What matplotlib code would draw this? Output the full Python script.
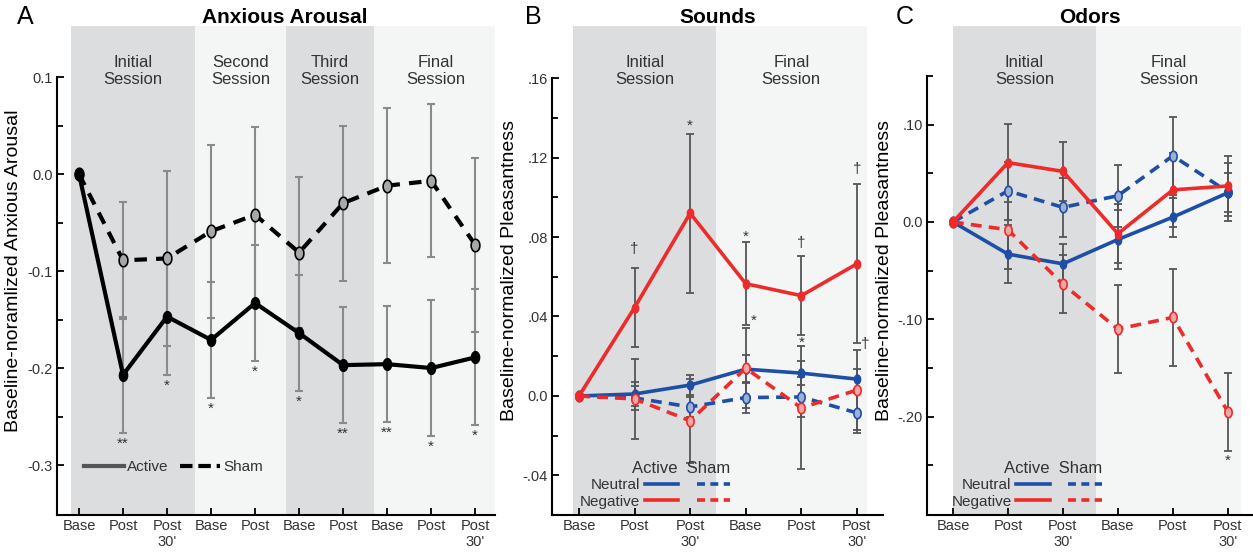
import numpy as np
import matplotlib
matplotlib.use("Agg")
import matplotlib.pyplot as plt
from matplotlib.lines import Line2D

plt.rcParams['font.family'] = ['Liberation Sans', 'DejaVu Sans']

# ---- data ----
a_ticks = ["Base", "Post", "Post\n30'", "Base", "Post", "Base", "Post", "Base", "Post", "Post\n30'"]
a_active = [0.0, -0.207, -0.147, -0.171, -0.133, -0.164, -0.197, -0.196, -0.200, -0.189]
a_active_se = [0, 0.060, 0.060, 0.060, 0.060, 0.060, 0.060, 0.060, 0.070, 0.070]
a_sham = [0.0, -0.089, -0.087, -0.059, -0.042, -0.081, -0.030, -0.012, -0.007, -0.073]
a_sham_se = [0, 0.060, 0.090, 0.089, 0.090, 0.078, 0.080, 0.080, 0.079, 0.090]
a_stars = ["", "**", "*", "*", "*", "*", "**", "**", "*", "*"]
a_sessions = ["Initial\nSession", "Second\nSession", "Third\nSession", "Final\nSession"]

bc_ticks = ["Base", "Post", "Post\n30'", "Base", "Post", "Post\n30'"]
bc_sessions = ["Initial\nSession", "Final\nSession"]

b_neu_act = [0, 0.001, 0.0055, 0.0135, 0.0115, 0.0085]
b_neu_act_se = [0, 0.006, 0.005, 0.007, 0.006, 0.005]
b_neu_sham = [0, -0.001, -0.0055, -0.0008, -0.0005, -0.0085]
b_neu_sham_se = [0, 0.006, 0.005, 0.008, 0.010, 0.010]
b_neg_act = [0, 0.0445, 0.0920, 0.0565, 0.0505, 0.0665]
b_neg_act_se = [0, 0.020, 0.040, 0.021, 0.020, 0.040]
b_neg_sham = [0, -0.0015, -0.0125, 0.0140, -0.0060, 0.0030]
b_neg_sham_se = [0, 0.020, 0.021, 0.020, 0.031, 0.020]
b_marks = [(1, "\u2020", 0.074), (2, "*", 0.136), (3, "*", 0.080), (3.15, "*", 0.038),
           (4, "\u2020", 0.077), (4, "*", 0.027), (5, "\u2020", 0.114), (5.15, "\u2020", 0.026)]

c_neu_act = [0, -0.033, -0.043, -0.018, 0.005, 0.030]
c_neu_act_se = [0, 0.030, 0.020, 0.030, 0.020, 0.020]
c_neu_sham = [0, 0.032, 0.015, 0.027, 0.068, 0.031]
c_neu_sham_se = [0, 0.030, 0.030, 0.032, 0.040, 0.030]
c_neg_act = [0, 0.061, 0.052, -0.012, 0.033, 0.037]
c_neg_act_se = [0, 0.040, 0.030, 0.030, 0.038, 0.031]
c_neg_sham = [0, -0.008, -0.064, -0.110, -0.098, -0.195]
c_neg_sham_se = [0, 0.040, 0.030, 0.045, 0.050, 0.040]
c_marks = [(5, "*", -0.245)]

# ---- style ----
DARK = '#dcdddf'
LIGHT = '#f4f6f6'
RED = '#ee2b2b'
BLUE = '#1f4ea6'
TXT = '#333333'

# upright ellipse marker, like the original's squashed circles
_t = np.linspace(0, 2 * np.pi, 40)
ELL = np.column_stack([0.7 * np.cos(_t), np.sin(_t)])

W, H = 1253, 554
fig = plt.figure(figsize=(W / 100, H / 100), dpi=100)


def make_ax(x0, x1, ylim, xlim):
    ax = fig.add_axes([x0 / W, 1 - 515 / H, (x1 - x0) / W, (515 - 26) / H])
    ax.set_xlim(*xlim)
    ax.set_ylim(*ylim)
    for s in ('top', 'right'):
        ax.spines[s].set_visible(False)
    for s in ('left', 'bottom'):
        ax.spines[s].set_linewidth(1.5)
    ax.tick_params(which='both', direction='in', width=1.3, colors='black',
                   labelcolor=TXT, labelsize=10.5)
    ax.tick_params(which='major', length=5)
    ax.tick_params(which='minor', length=4)
    ax.tick_params(axis='x', pad=3)
    ax.tick_params(axis='y', pad=3)
    return ax


def shade(ax, bounds, labels):
    for i, lab in enumerate(labels):
        ax.axvspan(bounds[i], bounds[i + 1], color=DARK if i % 2 == 0 else LIGHT,
                   lw=0, zorder=0)
        ax.text((bounds[i] + bounds[i + 1]) / 2, 0.908, lab, transform=ax.get_xaxis_transform(),
                ha='center', va='center', fontsize=12, color=TXT, linespacing=1.15)


# ================= Panel A =================
axA = make_ax(57, 495, (-0.3515, 0.1526), (-0.5, 9.45))
shade(axA, [-0.18, 2.64, 4.70, 6.70, 9.5], a_sessions)
x = list(range(len(a_ticks)))
eb = dict(fmt='none', ecolor='#8a8a8a', elinewidth=1.5, capsize=3, capthick=1.5, zorder=2)
axA.errorbar(x, a_sham, yerr=a_sham_se, **eb)
axA.errorbar(x, a_active, yerr=a_active_se, **eb)
axA.plot(x, a_sham, color='black', lw=3, ls=(0, (3, 2.2)), marker=ELL, ms=9,
         mfc='#a8a8a8', mec='black', mew=1.2, zorder=3)
axA.plot(x, a_active, color='black', lw=3, marker=ELL, ms=8.5, mfc='black', mec='black', zorder=4)
for xi, s, m, e in zip(x, a_stars, a_active, a_active_se):
    if s:
        axA.text(xi, m - e - 0.004, s, ha='center', va='top', fontsize=11, color=TXT)
axA.set_xticks(x)
axA.set_xticklabels(a_ticks)
axA.set_yticks([0.1, 0.0, -0.1, -0.2, -0.3])
axA.set_yticklabels(["0.1", "0.0", "-0.1", "-0.2", "-0.3"])
axA.set_yticks([0.05, -0.05, -0.15, -0.25], minor=True)
axA.spines['left'].set_bounds(-0.3515, 0.1)
axA.set_ylabel("Baseline-noramlized Anxious Arousal", fontsize=14, labelpad=4)
legA = axA.legend([Line2D([], [], color='#555555', lw=3),
                   Line2D([], [], color='black', lw=3, ls=(0, (3, 1.4)))],
                  ["Active", "Sham"], ncol=2, loc='lower left', bbox_to_anchor=(0.03, 0.055),
                  frameon=False, fontsize=11, handlelength=2.6, handletextpad=0.2,
                  columnspacing=0.8)
for t in legA.get_texts():
    t.set_color(TXT)
axA.text(0.52, 1.017, "Anxious Arousal", transform=axA.transAxes, ha='center',
         va='center', fontsize=15, fontweight='bold')


# ================= Panels B, C =================
def pleasant_panel(ax, na, nas, ns, nss, ga, gas, gs, gss, marks, bounds):
    shade(ax, bounds, bc_sessions)
    xx = list(range(len(bc_ticks)))
    eb = dict(fmt='none', ecolor='#555555', elinewidth=1.3, capsize=3, capthick=1.3, zorder=2)
    for v, e in ((ns, nss), (na, nas), (gs, gss), (ga, gas)):
        ax.errorbar(xx, v, yerr=e, **eb)
    ax.plot(xx, ns, color=BLUE, lw=2.6, ls=(0, (3, 2)), marker=ELL, ms=7.5,
            mfc='#9fb0d6', mec=BLUE, mew=1.2, zorder=3)
    ax.plot(xx, na, color=BLUE, lw=2.6, marker=ELL, ms=6.5, mfc=BLUE, mec=BLUE, zorder=4)
    ax.plot(xx, gs, color=RED, lw=2.6, ls=(0, (3, 2)), marker=ELL, ms=7.5,
            mfc='#f2a7a7', mec=RED, mew=1.2, zorder=5)
    ax.plot(xx, ga, color=RED, lw=2.6, marker=ELL, ms=6.5, mfc=RED, mec=RED, zorder=6)
    for xi, s, yv in marks:
        ax.text(xi, yv, s, ha='center', va='center', fontsize=11, color=TXT, zorder=7)
    ax.set_xticks(xx)
    ax.set_xticklabels(bc_ticks)
    ax.set_ylabel("Baseline-normalized Pleasantness", fontsize=14, labelpad=3)
    hs = [Line2D([], [], color=BLUE, lw=2.6), Line2D([], [], color=RED, lw=2.6),
          Line2D([], [], color=BLUE, lw=2.6, ls=(0, (2.2, 1.5))),
          Line2D([], [], color=RED, lw=2.6, ls=(0, (2.2, 1.5)))]
    leg = ax.legend(hs, ["Neutral", "Negative", "", ""], ncol=2, markerfirst=False,
                    loc='lower right', bbox_to_anchor=(0.58, -0.015), frameon=False,
                    fontsize=11, handlelength=2.2, handletextpad=0.3, columnspacing=0.9,
                    labelspacing=0.15, title="Active  Sham", alignment='right',
                    title_fontsize=12)
    leg.get_title().set_color(TXT)
    for t in leg.get_texts():
        t.set_color(TXT)


axB = make_ax(552, 883, (-0.0599, 0.1862), (-0.486, 5.47))
pleasant_panel(axB, b_neu_act, b_neu_act_se, b_neu_sham, b_neu_sham_se,
               b_neg_act, b_neg_act_se, b_neg_sham, b_neg_sham_se, b_marks, [-0.1, 2.46, 5.18])
axB.set_yticks([0.16, 0.12, 0.08, 0.04, 0.0, -0.04])
axB.set_yticklabels([".16", ".12", ".08", ".04", "0.0", "-.04"])
axB.set_yticks([0.14, 0.10, 0.06, 0.02, -0.02], minor=True)
axB.spines['left'].set_bounds(-0.0599, 0.16)
axB.text(0.5, 1.017, "Sounds", transform=axB.transAxes, ha='center', va='center',
         fontsize=15, fontweight='bold')

axC = make_ax(927, 1252, (-0.3011, 0.2014), (-0.473, 5.44))
pleasant_panel(axC, c_neu_act, c_neu_act_se, c_neu_sham, c_neu_sham_se,
               c_neg_act, c_neg_act_se, c_neg_sham, c_neg_sham_se, c_marks, [0.0, 2.6, 5.24])
axC.set_yticks([0.10, 0.0, -0.10, -0.20])
axC.set_yticklabels([".10", "0.0", "-.10", "-.20"])
axC.set_yticks([0.15, 0.05, -0.05, -0.15, -0.25], minor=True)
axC.spines['left'].set_bounds(-0.3011, 0.15)
axC.text(0.5, 1.017, "Odors", transform=axC.transAxes, ha='center', va='center',
         fontsize=15, fontweight='bold')

# panel letters
for lx, lab in ((25, "A"), (533, "B"), (905, "C")):
    fig.text(lx / W, 1 - 17 / H, lab, ha='center', va='center', fontsize=18)

fig.savefig("out.png", dpi=100)
